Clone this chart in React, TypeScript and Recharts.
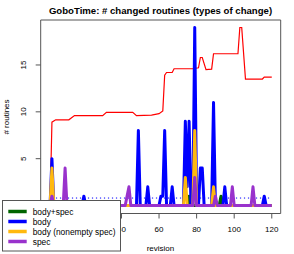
import { LineChart, Line, XAxis, YAxis, ReferenceArea, ReferenceLine } from "recharts";

const FONT = "'Liberation Sans', Arial, Helvetica, sans-serif";

// revisions 2..120
const revisions: number[] = Array.from({ length: 119 }, (_, i) => i + 2);

// red line: breakpoints [revision, value]
const totalPoints: [number, number][] = [
  [2, 0], [3, 8.9], [5, 9.15], [12, 9.15], [15, 9.6], [30, 9.6], [32, 9.95],
  [46, 9.95], [48, 9.6], [56, 9.65], [60, 9.8], [62, 10.1], [63, 13.9],
  [64, 14.2], [67, 14.2], [68, 14.6], [78, 14.6], [81, 14.7], [82, 15.8],
  [83, 15.8], [85, 14.5], [88, 14.55], [89, 16.2], [102, 16.2], [103, 19],
  [104, 19], [106, 13.5], [115, 13.5], [116, 13.7], [120, 13.7],
];

// non-zero counts per revision, zero elsewhere
const bodySpecPeaks: [number, number][] = [[76, 1], [93, 1]];
const bodyPeaks: [number, number][] = [
  [3, 5], [20, 1], [49, 8], [54, 2], [61, 1], [62, 1], [63, 8], [67, 2],
  [74, 9], [75, 2], [76, 9], [79, 19], [82, 4], [83, 4], [89, 11], [95, 2], [116, 1],
];
const bodyNonemptyPeaks: [number, number][] = [[3, 4], [74, 3], [79, 8], [89, 2]];
const specPeaks: [number, number][] = [
  [3, 1], [10, 4], [43, 1], [44, 2], [79, 3], [90, 1], [99, 2], [110, 2],
];

const bodyMean = 0.8;
const meanFrom = 3;
const meanTo = 119;

const xTicks = [0, 20, 40, 60, 80, 100, 120];
const yTicks = [0, 5, 10, 15];
// labels that sit under the legend box
const hiddenXLabels = [0, 20];
const hiddenYLabels = [0];
const xDomain: [number, number] = [-2.98, 124.75];
const yDomain: [number, number] = [-0.85, 19.8];

const series = [
  { key: "bodySpec", name: "body+spec", color: "#006400" },
  { key: "body", name: "body", color: "#0000ff" },
  { key: "bodyNonempty", name: "body (nonempty spec)", color: "#ffb90f" },
  { key: "spec", name: "spec", color: "#9932cc" },
];

const toMap = (pts: [number, number][]) => new Map(pts.map(([r, v]) => [r, v]));
const totalMap = toMap(totalPoints);
const maps: Record<string, Map<number, number>> = {
  bodySpec: toMap(bodySpecPeaks),
  body: toMap(bodyPeaks),
  bodyNonempty: toMap(bodyNonemptyPeaks),
  spec: toMap(specPeaks),
};

const rows = revisions.map((rev) => {
  const row: Record<string, number | null> = { rev, total: totalMap.get(rev) ?? null };
  for (const s of series) row[s.key] = maps[s.key].get(rev) ?? 0;
  return row;
});

const XTick = (props: any) =>
  hiddenXLabels.includes(props.payload.value) ? (
    <g />
  ) : (
    <text x={props.x} y={232} textAnchor="middle" fontSize={8} fontFamily={FONT} fill="#000">
      {props.payload.value}
    </text>
  );

const YTick = (props: any) =>
  hiddenYLabels.includes(props.payload.value) ? (
    <g />
  ) : (
    <text
      x={26}
      y={props.y}
      transform={`rotate(-90 26 ${props.y})`}
      textAnchor="middle"
      fontSize={8}
      fontFamily={FONT}
      fill="#000"
    >
      {props.payload.value}
    </text>
  );

export default function App() {
  return (
    <div style={{ position: "absolute", left: 0, top: 0, width: 294, height: 254, background: "#fff" }}>
      <LineChart
        width={294}
        height={254}
        data={rows}
        margin={{ top: 20, right: 13.3, bottom: 0, left: 0 }}
      >
        <XAxis
          dataKey="rev"
          type="number"
          domain={xDomain}
          ticks={xTicks}
          height={40.5}
          axisLine={false}
          tickSize={5}
          tickLine={{ stroke: "#555" }}
          tick={XTick}
          interval={0}
          allowDataOverflow
        />
        <YAxis
          type="number"
          domain={yDomain}
          ticks={yTicks}
          width={40.7}
          axisLine={false}
          tickSize={5}
          tickLine={{ stroke: "#555" }}
          tick={YTick}
          interval={0}
          allowDataOverflow
        />
        <Line
          dataKey="total"
          stroke="#ff0000"
          strokeWidth={1.2}
          dot={false}
          connectNulls
          isAnimationActive={false}
          type="linear"
        />
        <ReferenceLine
          segment={[{ x: meanFrom, y: bodyMean }, { x: meanTo, y: bodyMean }]}
          stroke="#0000ff"
          strokeDasharray="1.2 2.8"
          strokeWidth={1}
        />
        {series.map((s) => (
          <Line
            key={s.key}
            dataKey={s.key}
            stroke={s.color}
            strokeWidth={3}
            strokeLinejoin="round"
            dot={false}
            isAnimationActive={false}
            type="linear"
          />
        ))}
        <ReferenceArea
          x1={xDomain[0]}
          x2={xDomain[1]}
          y1={yDomain[0]}
          y2={yDomain[1]}
          fill="none"
          stroke="#555"
          strokeWidth={1}
          fillOpacity={0}
        />
      </LineChart>
      <svg
        width={294}
        height={254}
        style={{ position: "absolute", left: 0, top: 0, pointerEvents: "none" }}
      >
        <text x={160.5} y={13.5} textAnchor="middle" fontSize={9.6} fontWeight="bold" fontFamily={FONT}>
          GoboTime: # changed routines (types of change)
        </text>
        <text x={160.5} y={251} textAnchor="middle" fontSize={8} fontFamily={FONT}>
          revision
        </text>
        <text
          x={9}
          y={117}
          transform="rotate(-90 9 117)"
          textAnchor="middle"
          fontSize={8}
          fontFamily={FONT}
        >
          # routines
        </text>
        <rect x={2.5} y={200.5} width={118} height={50.5} fill="#fff" stroke="#555" strokeWidth={1} />
        {series.map((s, i) => (
          <g key={s.key}>
            <line
              x1={8.3}
              x2={26.7}
              y1={211.5 + i * 10}
              y2={211.5 + i * 10}
              stroke={s.color}
              strokeWidth={3.5}
            />
            <text x={32.7} y={214.5 + i * 10} fontSize={8.4} fontFamily={FONT}>
              {s.name}
            </text>
          </g>
        ))}
      </svg>
    </div>
  );
}
